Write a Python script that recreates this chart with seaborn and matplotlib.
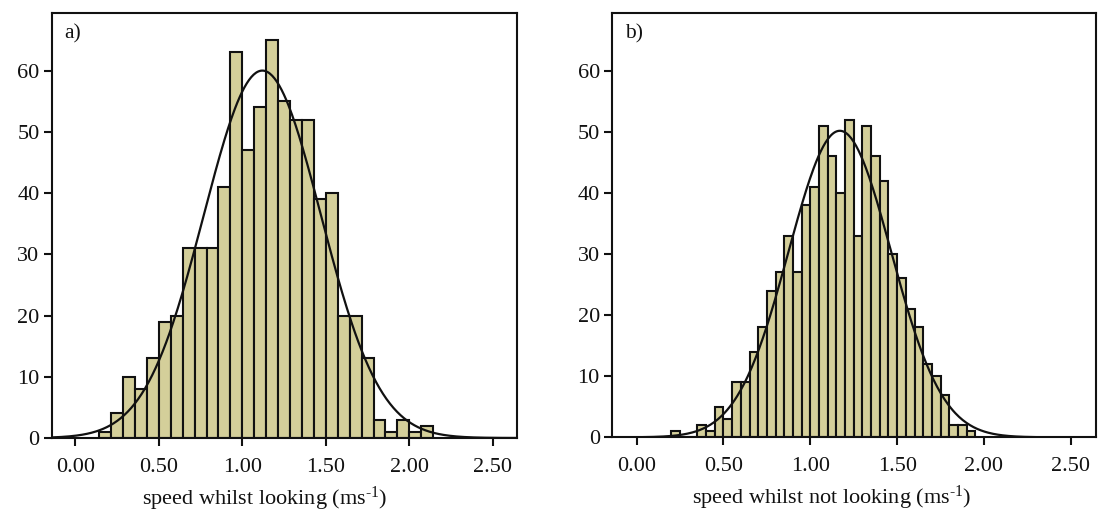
import numpy as np
import pandas as pd
import matplotlib
matplotlib.use("Agg")
import matplotlib.pyplot as plt
import seaborn as sns

# Panel a: speed whilst looking, bins of width 1/14 starting at 2/14
looking_first_edge = 2 / 14
looking_bin_width = 1 / 14
looking_counts = [1, 4, 10, 8, 13, 19, 20, 31, 31, 31, 41, 63, 47, 54,
                  65, 55, 52, 52, 39, 40, 20, 20, 13, 3, 1, 3, 1, 2]

# Panel b: speed whilst not looking, bins of width 0.05 starting at 0.20
not_looking_first_edge = 0.20
not_looking_bin_width = 0.05
not_looking_counts = [1, 0, 0, 2, 1, 5, 3, 9, 9, 14, 18, 24, 27, 33, 27, 38,
                      41, 51, 46, 40, 52, 33, 51, 46, 42, 30, 26, 21, 18, 12,
                      10, 7, 2, 2, 1]

# Normal fits overlaid on each histogram (mean, sd in m/s)
looking_fit = (1.12, 0.351)
not_looking_fit = (1.17, 0.295)

panel_letters = ["a)", "b)"]
x_labels = ["speed whilst looking (ms$^{\\text{-1}}$)",
            "speed whilst not looking (ms$^{\\text{-1}}$)"]
x_ticks = [0.0, 0.5, 1.0, 1.5, 2.0, 2.5]
x_tick_labels = ["0.00", "0.50", "1.00", "1.50", "2.00", "2.50"]
y_ticks = [0, 10, 20, 30, 40, 50, 60]

sns.set_theme(style="ticks")
plt.rcParams["font.family"] = ["Liberation Serif", "DejaVu Serif"]
plt.rcParams["mathtext.fontset"] = "custom"
plt.rcParams["mathtext.rm"] = "Liberation Serif"
plt.rcParams["mathtext.it"] = "Liberation Serif:italic"

BAR = "#d4cf9a"
INK = "#111111"

fig = plt.figure(figsize=(11.08, 5.14), dpi=100)
ax_a = fig.add_axes([0.0469, 0.1479, 0.4197, 0.8268])
ax_b = fig.add_axes([0.5526, 0.1492, 0.4366, 0.8249])

panels = [
    (ax_a, looking_first_edge, looking_bin_width, looking_counts, looking_fit, 0.458),
    (ax_b, not_looking_first_edge, not_looking_bin_width, not_looking_counts, not_looking_fit, 0.454),
]

for i, (ax, first, width, counts, (mu, sd), label_x) in enumerate(panels):
    counts = np.asarray(counts, dtype=float)
    last = first + width * len(counts)
    centers = first + width * (np.arange(len(counts)) + 0.5)
    df = pd.DataFrame({"speed": centers, "n": counts})
    sns.histplot(data=df, x="speed", weights="n", binwidth=width,
                 binrange=(first, last), ax=ax,
                 color=BAR, alpha=1.0, edgecolor=INK, linewidth=1.5)

    # fitted normal, scaled to counts per bin
    n_total = counts.sum()
    grid = np.linspace(-0.14, 2.645, 400)
    dens = n_total * width * np.exp(-0.5 * ((grid - mu) / sd) ** 2) / (sd * np.sqrt(2 * np.pi))
    sns.lineplot(x=grid, y=dens, ax=ax, color=INK, linewidth=1.6)

    ax.set_xlim(-0.14, 2.645)
    ax.set_ylim(0, 69.4)
    ax.set_xticks(x_ticks)
    ax.set_xticklabels(x_tick_labels)
    ax.set_yticks(y_ticks)
    ax.set_ylabel("")
    ax.set_xlabel(x_labels[i], fontsize=16, color=INK)
    ax.xaxis.set_label_coords(label_x, -0.144)
    ax.xaxis.label.set_va("center")
    ax.tick_params(axis="both", direction="out", length=5.5, width=1.5,
                   colors=INK, labelsize=16)
    ax.tick_params(axis="x", pad=9)
    ax.tick_params(axis="y", pad=3.5)
    for s in ax.spines.values():
        s.set_visible(True)
        s.set_linewidth(1.5)
        s.set_color(INK)
    ax.text(0.027, 0.952, panel_letters[i], transform=ax.transAxes,
            fontsize=15.5, color=INK, ha="left", va="center")

fig.savefig("out.png", dpi=100)
